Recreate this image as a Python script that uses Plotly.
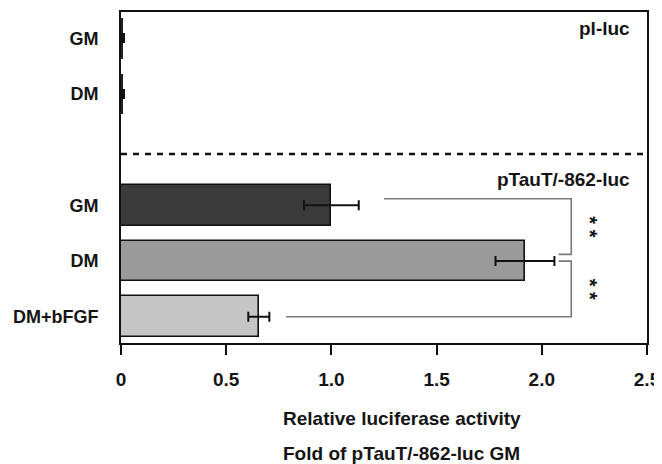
import plotly.graph_objects as go

# ---- data ----
pl_labels = ["GM", "DM"]
pl_values = [0.01, 0.01]
pl_errors = [0.005, 0.005]

ptau_labels = ["GM", "DM", "DM+bFGF"]
ptau_values = [1.0, 1.92, 0.655]
ptau_errors = [0.13, 0.14, 0.05]
ptau_colors = ["#3b3b3b", "#9a9a9a", "#c6c6c6"]

x_ticks = [0, 0.5, 1.0, 1.5, 2.0, 2.5]
x_ticktext = ["0", "0.5", "1.0", "1.5", "2.0", "2.5"]

comparisons = [("GM", "DM", "**"), ("DM", "DM+bFGF", "**")]

# ---- slot positions (one empty slot between constructs) ----
pl_pos = list(range(len(pl_labels)))
ptau_pos = [len(pl_labels) + 1 + i for i in range(len(ptau_labels))]

FONT = "Liberation Sans, Arial, sans-serif"
FS = 19
TXT = "#151515"

def bfont(size=FS):
    return dict(family=FONT, size=size, color=TXT, weight="bold")

fig = go.Figure()

fig.add_trace(go.Bar(
    y=pl_pos, x=pl_values, orientation="h", width=0.73,
    marker=dict(color="#222222", line=dict(width=0)),
    error_x=dict(type="data", array=pl_errors, color="#111111", thickness=2, width=5),
    showlegend=False,
))
fig.add_trace(go.Bar(
    y=ptau_pos, x=ptau_values, orientation="h", width=0.73,
    marker=dict(color=ptau_colors, line=dict(color="#111111", width=1.6)),
    error_x=dict(type="data", array=ptau_errors, color="#111111", thickness=2, width=5),
    showlegend=False,
))

# ---- significance brackets ----
pos_of = {lab: p for lab, p in zip(ptau_labels, ptau_pos)}
end_of = {lab: v + e for lab, v, e in zip(ptau_labels, ptau_values, ptau_errors)}
bracket_x = 2.14
hook_x = 2.08
star_x = 2.23
offsets = [(-0.12, -0.12, 0.12), (0.0, 0.0, 0.08)]
shapes = []
annotations = []
for (a, b, txt), (oa, ob, gap) in zip(comparisons, offsets):
    ya = pos_of[a] + oa
    yb = pos_of[b] + ob
    if a == "GM":
        path = f"M {end_of[a] + gap},{ya} L {bracket_x},{ya} L {bracket_x},{yb} L {hook_x},{yb}"
    else:
        path = f"M {hook_x},{ya} L {bracket_x},{ya} L {bracket_x},{yb} L {end_of[b] + gap},{yb}"
    shapes.append(dict(type="path", xref="x", yref="y", path=path,
                       line=dict(color="#7a7a7a", width=1.6)))
    ym = (pos_of[a] + pos_of[b]) / 2 + (oa + ob) / 2
    annotations.append(dict(
        x=star_x, y=ym, xref="x", yref="y", text=" ".join(txt),
        textangle=90, showarrow=False, font=bfont(20),
        xanchor="center", yanchor="middle",
    ))

# dashed separator between constructs
sep_y = len(pl_labels) + 0.08
shapes.append(dict(type="line", xref="paper", yref="y", x0=0, x1=1, y0=sep_y, y1=sep_y,
                   line=dict(color="#111111", width=2.5, dash="6px,6px")))

# construct labels
annotations.append(dict(x=0.971, y=-0.17, xref="paper", yref="y", text="pl-luc",
                        showarrow=False, xanchor="right", yanchor="middle", font=bfont()))
annotations.append(dict(x=0.971, y=len(pl_labels) + 0.54, xref="paper", yref="y",
                        text="pTauT/-862-luc",
                        showarrow=False, xanchor="right", yanchor="middle", font=bfont()))

# axis titles (two lines)
annotations.append(dict(x=0.534, y=-0.227, xref="paper", yref="paper",
                        text="Relative luciferase activity", showarrow=False,
                        xanchor="center", yanchor="middle", font=bfont()))
annotations.append(dict(x=0.534, y=-0.333, xref="paper", yref="paper",
                        text="Fold of pTauT/-862-luc GM", showarrow=False,
                        xanchor="center", yanchor="middle", font=bfont()))

# page body has an 8px margin: figure is offset accordingly
fig.update_layout(
    width=654, height=456,
    margin=dict(l=113, r=15, t=4, b=121),
    plot_bgcolor="white", paper_bgcolor="white",
    shapes=shapes, annotations=annotations,
    bargap=0,
    xaxis=dict(range=[0, 2.5], tickvals=x_ticks, ticktext=x_ticktext, automargin=False,
               showgrid=False, zeroline=False, showline=True, linecolor="#111111",
               linewidth=2, mirror=True, ticks="outside", ticklen=10, tickwidth=2,
               tickcolor="#111111", ticklabelstandoff=8, tickfont=bfont(),
               ticklabeloverflow="allow"),
    yaxis=dict(range=[5.47, -0.47], tickvals=pl_pos + ptau_pos, automargin=False,
               ticktext=pl_labels + ptau_labels,
               showgrid=False, zeroline=False, showline=True, linecolor="#111111",
               linewidth=2, mirror=True, ticks="", ticklabelstandoff=17,
               tickfont=bfont(18)),
)

fig.write_html("out.html")
